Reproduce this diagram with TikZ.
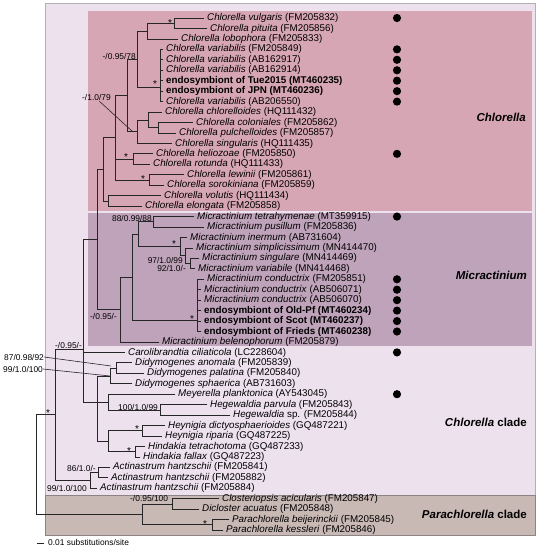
\documentclass[tikz,border=0pt]{standalone}
\usepackage{fontspec}
\setmainfont{Liberation Sans}
\usetikzlibrary{calc}
\definecolor{outerc}{HTML}{EDE1EE}
\definecolor{outerb}{HTML}{B4AEB6}
\definecolor{chlorc}{HTML}{D7A6B4}
\definecolor{micrc}{HTML}{BFA3BA}
\definecolor{parac}{HTML}{C9B9B5}
\definecolor{parab}{HTML}{8C8484}
\tikzset{
  br/.style={line width=0.75pt, draw=black!85, line cap=rect},
  leaf/.style={anchor=mid west, inner sep=0pt, font=\fontsize{9.8}{10}\selectfont},
  suplab/.style={inner sep=0pt, font=\fontsize{8.4}{9}\selectfont},
  starlab/.style={anchor=base, inner sep=0pt, font=\fontsize{10}{9}\selectfont},
  dotm/.style={circle, fill=black, inner sep=0pt, minimum size=8.2pt},
  grp/.style={anchor=east, inner sep=0pt, font=\fontsize{11.5}{12}\selectfont\bfseries},
  lead/.style={line width=0.6pt, draw=black!85},
}
\newcommand\leaf[3]{%
  \coordinate (E#1) at ({#2-3},{18+(#1-1)*10.45});
  \node[leaf] (L#1) at (#2,{18+(#1-1)*10.45}) {#3};}
\newcommand\dotat[1]{\node[dotm] (D#1) at (397,{18+(#1-1)*10.45}) {};}
% parent, top child, bottom child, list of children
\newcommand\clade[4]{%
  \draw[br] (#1 |- #2) -- (#1 |- #3);
  \foreach \kid in {#4}{\draw[br] (#1 |- \kid) -- (\kid);}}
\begin{document}
\begin{tikzpicture}[x=1pt,y=-1pt]
\useasboundingbox (0,0) rectangle (540,550);
\fill[white] (0,0) rectangle (540,550);
% boxes
\filldraw[fill=outerc, draw=outerb, line width=0.8pt] (45,3) rectangle (535,495);
\fill[chlorc] (88,11) rectangle (532,211);
\fill[micrc] (88,213) rectangle (532,346);
\filldraw[fill=parac, draw=parab, line width=0.8pt] (45,495) rectangle (535,535);
\node[grp] (gChl) at (526,117) {\itshape Chlorella};
\node[grp] (gMic) at (527,275) {\itshape Micractinium};
\node[grp] (gCc) at (527,422) {\textit{Chlorella} clade};
\node[grp] (gPc) at (527,514) {\textit{Parachlorella} clade};
% leaves
\leaf{1}{207}{\textit{Chlorella vulgaris} (FM205832)}
\leaf{2}{210}{\textit{Chlorella pituita} (FM205856)}
\leaf{3}{181}{\textit{Chlorella lobophora} (FM205833)}
\leaf{4}{166}{\textit{Chlorella variabilis} (FM205849)}
\leaf{5}{166}{\textit{Chlorella variabilis} (AB162917)}
\leaf{6}{166}{\textit{Chlorella variabilis} (AB162914)}
\leaf{7}{166}{\textbf{endosymbiont of Tue2015 (MT460235)}}
\leaf{8}{166}{\textbf{endosymbiont of JPN (MT460236)}}
\leaf{9}{166}{\textit{Chlorella variabilis} (AB206550)}
\leaf{10}{165}{\textit{Chlorella chlorelloides} (HQ111432)}
\leaf{11}{196}{\textit{Chlorella coloniales} (FM205862)}
\leaf{12}{179}{\textit{Chlorella pulchelloides} (FM205857)}
\leaf{13}{175}{\textit{Chlorella singularis} (HQ111435)}
\leaf{14}{156}{\textit{Chlorella heliozoae} (FM205850)}
\leaf{15}{153}{\textit{Chlorella rotunda} (HQ111433)}
\leaf{16}{187}{\textit{Chlorella lewinii} (FM205861)}
\leaf{17}{167}{\textit{Chlorella sorokiniana} (FM205859)}
\leaf{18}{164}{\textit{Chlorella volutis} (HQ111434)}
\leaf{19}{145}{\textit{Chlorella elongata} (FM205858)}
\leaf{20}{197}{\textit{Micractinium tetrahymenae} (MT359915)}
\leaf{21}{207}{\textit{Micractinium pusillum} (FM205836)}
\leaf{22}{190}{\textit{Micractinium inermum} (AB731604)}
\leaf{23}{196}{\textit{Micractinium simplicissimum} (MN414470)}
\leaf{24}{202}{\textit{Micractinium singulare} (MN414469)}
\leaf{25}{198}{\textit{Micractinium variabile} (MN414468)}
\leaf{26}{207}{\textit{Micractinium conductrix} (FM205851)}
\leaf{27}{204}{\textit{Micractinium conductrix} (AB506071)}
\leaf{28}{204}{\textit{Micractinium conductrix} (AB506070)}
\leaf{29}{204}{\textbf{endosymbiont of Old-Pf (MT460234)}}
\leaf{30}{204}{\textbf{endosymbiont of Scot (MT460237)}}
\leaf{31}{204}{\textbf{endosymbiont of Frieds (MT460238)}}
\leaf{32}{162}{\textit{Micractinium belenophorum} (FM205879)}
\leaf{33}{128}{\textit{Carolibrandtia ciliaticola} (LC228604)}
\leaf{34}{135}{\textit{Didymogenes anomala} (FM205839)}
\leaf{35}{147}{\textit{Didymogenes palatina} (FM205840)}
\leaf{36}{135}{\textit{Didymogenes sphaerica} (AB731603)}
\leaf{37}{178}{\textit{Meyerella planktonica} (AY543045)}
\leaf{38}{210}{\textit{Hegewaldia parvula} (FM205843)}
\leaf{39}{233}{\textit{Hegewaldia} sp. (FM205844)}
\leaf{40}{168}{\textit{Heynigia dictyosphaerioides} (GQ487221)}
\leaf{41}{165}{\textit{Heynigia riparia} (GQ487225)}
\leaf{42}{148}{\textit{Hindakia tetrachotoma} (GQ487233)}
\leaf{43}{143}{\textit{Hindakia fallax} (GQ487223)}
\leaf{44}{113}{\textit{Actinastrum hantzschii} (FM205841)}
\leaf{45}{111}{\textit{Actinastrum hantzschii} (FM205882)}
\leaf{46}{100}{\textit{Actinastrum hantzschii} (FM205884)}
\leaf{47}{222}{\textit{Closteriopsis acicularis} (FM205847)}
\leaf{48}{202}{\textit{Dicloster acuatus} (FM205848)}
\leaf{49}{232}{\textit{Parachlorella beijerinckii} (FM205845)}
\leaf{50}{226}{\textit{Parachlorella kessleri} (FM205846)}
% dots
\foreach \i in {1,4,5,6,7,8,9,14,20,26,27,28,29,30,31,33,37}{\dotat{\i}}
% internal nodes
\coordinate (nA) at (174,23.2);
\coordinate (nB) at (147,31.1);
\coordinate (nC) at (160,87);
\coordinate (nD) at (137,59);
\coordinate (nF2) at (158,127.7);
\coordinate (nF) at (148,119.9);
\coordinate (nG) at (137,131.6);
\coordinate (nH) at (127,95.3);
\coordinate (nHe) at (133,159.1);
\coordinate (nLe) at (149,180);
\coordinate (nI) at (115,137.6);
\coordinate (nV) at (108,200.9);
\coordinate (nK) at (103,169.2);
\coordinate (nN1) at (153,221.8);
\coordinate (nN4) at (190,263.6);
\coordinate (nN3) at (185,255.7);
\coordinate (nN2) at (180,246.6);
\coordinate (nN5) at (138,234.2);
\coordinate (nCo) at (197,320);
\coordinate (nN6) at (132,277.1);
\coordinate (nN7) at (120,309.5);
\coordinate (nM) at (97,239.4);
\coordinate (nD1) at (116,368.1);
\coordinate (nD2) at (110,375.9);
\coordinate (nHg) at (160,409.9);
\coordinate (nH2) at (108,402);
\coordinate (nHy) at (142,430.8);
\coordinate (nHi) at (135,451.7);
\coordinate (nX) at (108,441.2);
\coordinate (nW) at (97,402);
\coordinate (nP) at (83,349);
\coordinate (nA1) at (98,472.6);
\coordinate (nA2) at (90,480.4);
\coordinate (nY) at (55,414.7);
\coordinate (nPC1) at (172,503.9);
\coordinate (nPa) at (212,524.8);
\coordinate (nPC) at (142,514.4);
\coordinate (nZ) at (36,464.5);
% branches
\clade{nA}{E1}{E2}{E1,E2}
\clade{nB}{nA}{E3}{nA,E3}
\clade{nC}{E4}{E9}{E4,E5,E6,E7,E8,E9}
\clade{nD}{nB}{nC}{nB,nC}
\clade{nF2}{E11}{E12}{E11,E12}
\clade{nF}{E10}{nF2}{E10,nF2}
\clade{nG}{nF}{E13}{nF,E13}
\clade{nH}{nD}{nG}{nD,nG}
\clade{nHe}{E14}{E15}{E14,E15}
\clade{nLe}{E16}{E17}{E16,E17}
\clade{nI}{nH}{nLe}{nH,nHe,nLe}
\clade{nV}{E18}{E19}{E18,E19}
\clade{nK}{nI}{nV}{nI,nV}
\clade{nN1}{E20}{E21}{E20,E21}
\clade{nN4}{E24}{E25}{E24,E25}
\clade{nN3}{E23}{nN4}{E23,nN4}
\clade{nN2}{E22}{nN3}{E22,nN3}
\clade{nN5}{nN1}{nN2}{nN1,nN2}
\clade{nCo}{E26}{E31}{E26,E27,E28,E29,E30,E31}
\clade{nN6}{nN5}{nCo}{nN5,nCo}
\clade{nN7}{nN6}{E32}{nN6,E32}
\clade{nM}{nK}{nN7}{nK,nN7}
\clade{nD1}{E34}{E35}{E34,E35}
\clade{nD2}{nD1}{E36}{nD1,E36}
\clade{nHg}{E38}{E39}{E38,E39}
\clade{nH2}{E37}{nHg}{E37,nHg}
\clade{nHy}{E40}{E41}{E40,E41}
\clade{nHi}{E42}{E43}{E42,E43}
\clade{nX}{nHy}{nHi}{nHy,nHi}
\clade{nW}{nD2}{nX}{nD2,nH2,nX}
\clade{nP}{nM}{nW}{nM,E33,nW}
\clade{nA1}{E44}{E45}{E44,E45}
\clade{nA2}{nA1}{E46}{nA1,E46}
\clade{nY}{nP}{nA2}{nP,nA2}
\clade{nPC1}{E47}{E48}{E47,E48}
\clade{nPa}{E49}{E50}{E49,E50}
\clade{nPC}{nPC1}{nPa}{nPC1,nPa}
\clade{nZ}{nY}{nPC}{nY,nPC}
% stars
\foreach \nm/\sx/\sy in {sA/170/21, sC/155/82, sHe/126/155, sLe/143/177, sN2/174/242, sCo/192/317, sHy/137/427, sHi/129/449, sZ/48/411, sPa/205/522}{
  \node[starlab] (\nm) at (\sx,\sy+5) {*};}
% support labels
\node[suplab, anchor=east] (b1) at (136,56) {-/0.95/78};
\node[suplab, anchor=west] (b2) at (82,97) {-/1.0/79};
\node[suplab, anchor=east] (b3) at (152,218) {88/0.99/88};
\node[suplab, anchor=east] (b4) at (183,260) {97/1.0/99};
\node[suplab, anchor=east] (b5) at (186,268) {92/1.0/-};
\node[suplab, anchor=west] (b6) at (90,316) {-/0.95/-};
\node[suplab, anchor=west] (b7) at (55,345) {-/0.95/-};
\node[suplab, anchor=west] (b8) at (4,357) {87/0.98/92};
\node[suplab, anchor=west] (b9) at (3,369) {99/1.0/100};
\node[suplab, anchor=west] (b10) at (118,407) {100/1.0/99};
\node[suplab, anchor=west] (b11) at (67,468) {86/1.0/-};
\node[suplab, anchor=east] (b12) at (87,488) {99/1.0/100};
\node[suplab, anchor=west] (b13) at (130,498) {-/0.95/100};
% leader lines
\coordinate (tG) at (133,132);
\coordinate (tD1) at (111,366);
\coordinate (tD2) at (110,376);
\draw[lead] ($(b2.south)+(3,1)$) -- (tG);
\draw[lead] (b8.east) -- (tD1);
\draw[lead] (b9.east) -- (tD2);
% scale bar
\coordinate (sb1) at (37,543);
\coordinate (sb2) at (44,543);
\draw[br] (sb1) -- (sb2);
\node[suplab, anchor=mid west] (sbt) at (48,543) {0.01 substitutions/site};
\end{tikzpicture}
\end{document}
